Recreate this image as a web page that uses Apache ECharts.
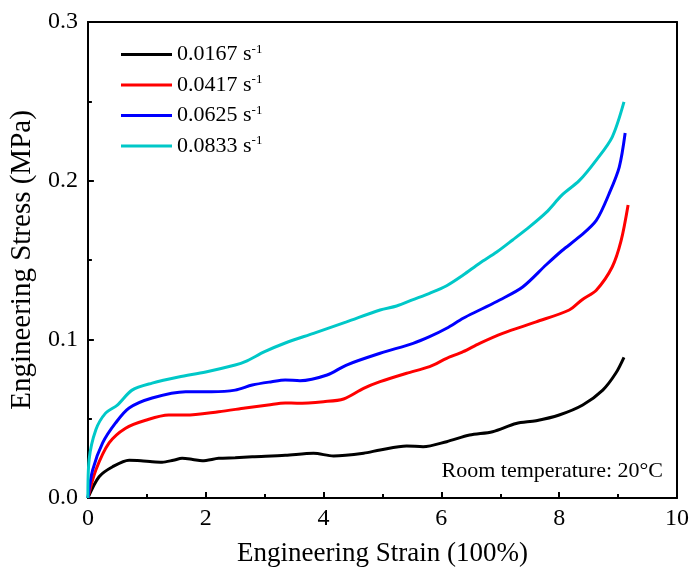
<!DOCTYPE html>
<html>
<head>
<meta charset="utf-8">
<script src="https://cdn.jsdelivr.net/npm/echarts@6/dist/echarts.min.js"></script>
<style>html,body{margin:0;padding:0;background:#fff}#c{width:692px;height:574px}</style>
</head>
<body>
<div id="c"></div>
<script>
var seriesNames = ['0.0167', '0.0417', '0.0625', '0.0833'];
var seriesColors = ['#000000', '#ff0000', '#0000ff', '#00c8c8'];

var black = [[0,0],[0.19,0.0134],[0.42,0.0197],[0.7,0.0238],[0.9,0.0235],[1.09,0.0229],[1.26,0.0226],[1.45,0.0238],[1.6,0.025],[1.78,0.0243],[1.94,0.0235],[2.22,0.025],[2.5,0.0254],[2.79,0.026],[3.35,0.0269],[3.83,0.0282],[4.17,0.0265],[4.68,0.0282],[4.96,0.0303],[5.41,0.0328],[5.69,0.0323],[6.09,0.0355],[6.48,0.0397],[6.87,0.0418],[7.27,0.047],[7.61,0.0487],[8.0,0.0523],[8.4,0.0586],[8.74,0.068],[8.96,0.0786],[9.1,0.0887]];
var red = [[0,0],[0.135,0.0176],[0.36,0.0347],[0.64,0.044],[0.98,0.049],[1.37,0.0523],[1.66,0.0523],[2.22,0.0544],[2.67,0.0567],[3.06,0.0586],[3.35,0.0599],[3.55,0.0597],[4.0,0.0607],[4.34,0.0624],[4.68,0.0691],[4.96,0.0733],[5.41,0.0786],[5.8,0.0828],[6.09,0.088],[6.37,0.0922],[6.65,0.0975],[7.04,0.1038],[7.61,0.111],[8.17,0.1185],[8.39,0.125],[8.63,0.131],[8.9,0.1456],[9.05,0.162],[9.17,0.1847]];
var blue = [[0,0],[0.08,0.0176],[0.25,0.0347],[0.47,0.0473],[0.7,0.0567],[1.09,0.063],[1.66,0.067],[2.1,0.067],[2.5,0.068],[2.79,0.0712],[3.12,0.0733],[3.35,0.0744],[3.6,0.0739],[4.06,0.0775],[4.39,0.0838],[4.96,0.0912],[5.52,0.0975],[5.8,0.1017],[6.09,0.107],[6.37,0.1133],[6.65,0.1185],[6.99,0.1248],[7.38,0.133],[7.78,0.147],[8.05,0.156],[8.34,0.1645],[8.63,0.175],[8.85,0.192],[9.02,0.2086],[9.12,0.230]];
var cyan = [[0,0],[0.02,0.024],[0.135,0.043],[0.3,0.0535],[0.5,0.0586],[0.75,0.068],[1.09,0.0724],[1.54,0.0763],[2.0,0.0794],[2.5,0.0838],[2.67,0.0859],[3.0,0.0922],[3.35,0.0977],[3.83,0.1038],[4.39,0.111],[4.96,0.1185],[5.24,0.121],[5.52,0.125],[5.8,0.129],[6.09,0.1338],[6.37,0.1405],[6.65,0.148],[6.94,0.155],[7.21,0.1626],[7.5,0.171],[7.78,0.180],[8.05,0.191],[8.34,0.200],[8.63,0.213],[8.9,0.2275],[9.1,0.2496]];
var allData = [black, red, blue, cyan];

var xTicks = [0, 2, 4, 6, 8, 10];
var yTicks = [0.0, 0.1, 0.2, 0.3];

var FONT = '"Liberation Serif", "Times New Roman", serif';
var chart = echarts.init(document.getElementById('c'), null, {renderer: 'canvas'});

var series = allData.map(function (d, i) {
  return {
    name: seriesNames[i],
    type: 'line',
    data: d,
    smooth: 0.3,
    showSymbol: false,
    symbol: 'none',
    lineStyle: {color: seriesColors[i], width: 3},
    itemStyle: {color: seriesColors[i]},
    z: 3
  };
});

function axisCommon() {
  return {
    axisLine: {show: true, onZero: false, lineStyle: {color: '#000', width: 2}},
    axisTick: {show: true, inside: true, length: 6, lineStyle: {color: '#000', width: 2}},
    minorTick: {show: true, splitNumber: 2, length: 4, lineStyle: {color: '#000', width: 2}},
    splitLine: {show: false},
    minorSplitLine: {show: false}
  };
}

var xBottom = Object.assign(axisCommon(), {
  type: 'value', min: 0, max: 10, interval: 2, position: 'bottom',
  name: 'Engineering Strain (100%)', nameLocation: 'middle', nameGap: 42,
  nameTextStyle: {fontFamily: FONT, fontSize: 27, color: '#000'},
  axisLabel: {fontFamily: FONT, fontSize: 24, color: '#000', margin: 9,
    formatter: function (v) { return xTicks.indexOf(v) >= 0 ? String(v) : ''; }}
});
var xTop = Object.assign(axisCommon(), {
  type: 'value', min: 0, max: 10, interval: 2, position: 'top',
  axisTick: {show: false}, minorTick: {show: false}, axisLabel: {show: false}
});
var yLeft = Object.assign(axisCommon(), {
  type: 'value', min: 0, max: 0.3, interval: 0.1, position: 'left',
  name: 'Engineering Stress (MPa)', nameLocation: 'middle', nameGap: 45,
  nameTextStyle: {fontFamily: FONT, fontSize: 29, color: '#000'},
  axisLabel: {fontFamily: FONT, fontSize: 24, color: '#000', margin: 10,
    formatter: function (v) { return v.toFixed(1); }}
});
var yRight = Object.assign(axisCommon(), {
  type: 'value', min: 0, max: 0.3, interval: 0.1, position: 'right',
  axisTick: {show: false}, minorTick: {show: false}, axisLabel: {show: false}
});

chart.setOption({
  animation: false,
  backgroundColor: '#fff',
  grid: {left: 87, right: 14, top: 22, bottom: 76, containLabel: false},
  xAxis: [xBottom, xTop],
  yAxis: [yLeft, yRight],
  legend: {
    orient: 'vertical', left: 121, top: 43, padding: 0,
    itemWidth: 51, itemHeight: 14, itemGap: 8,
    icon: 'path://M0,6 L51,6 L51,9 L0,9 Z',
    data: seriesNames.map(function (n, i) { return {name: n, itemStyle: {color: seriesColors[i]}}; }),
    textStyle: {fontFamily: FONT, fontSize: 22, color: '#000',
      rich: {sup: {fontFamily: FONT, fontSize: 13, color: '#000', padding: [0, 0, 10, 0]},
             b: {fontFamily: FONT, fontSize: 22, color: '#000'}}},
    formatter: function (n) { return '{b|' + n + ' s}{sup|-1}'; }
  },
  graphic: [{
    type: 'text', right: 29, top: 460,
    style: {text: 'Room temperature: 20°C', font: '22px ' + FONT, fill: '#000'}
  }],
  series: series
});
</script>
</body>
</html>
